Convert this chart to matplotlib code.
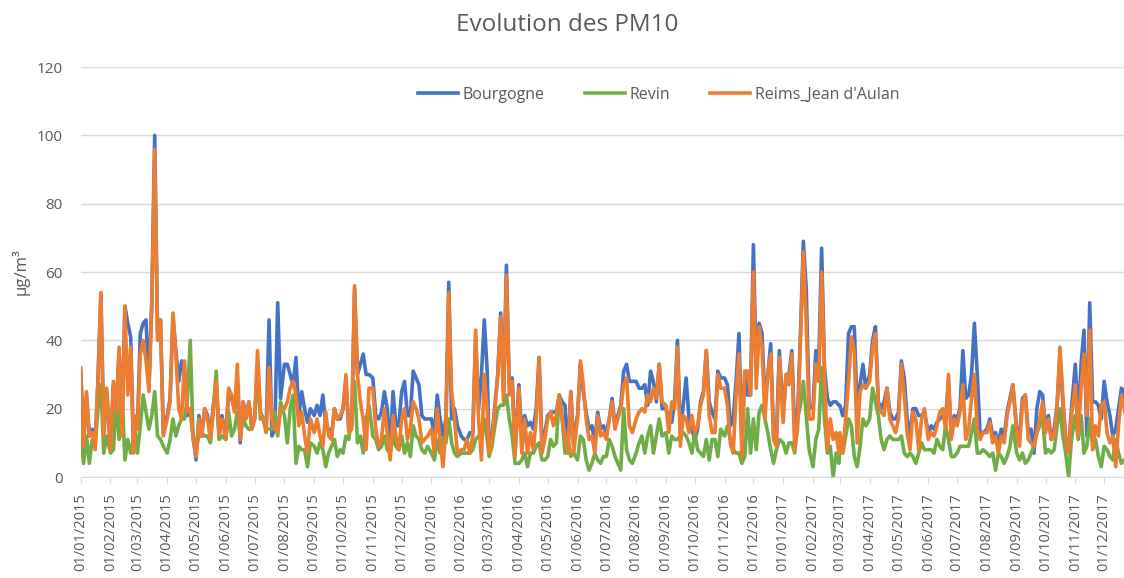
import matplotlib.pyplot as plt
import matplotlib.dates as mdates
import pandas as pd

# Daily PM10 readings, sampled every 3 days (10 values per month), Jan 2015 -> Dec 2017
months = pd.date_range('2015-01-01', '2017-12-01', freq='MS')
day_offsets = [0, 3, 6, 9, 12, 15, 18, 21, 24, 27]

bourgogne = [
    31, 10, 24, 12, 14, 9, 29, 53, 13, 25,    # 2015-01
    8, 27, 20, 37, 13, 50, 45, 41, 8, 18,     # 2015-02
    14, 42, 45, 46, 26, 52, 100, 42, 46, 13,  # 2015-03
    18, 23, 47, 37, 28, 34, 30, 18, 20, 12,   # 2015-04
    5, 18, 12, 20, 18, 12, 21, 27, 12, 18,    # 2015-05
    12, 25, 23, 20, 28, 10, 22, 18, 22, 15,   # 2015-06
    17, 32, 19, 17, 14, 46, 12, 14, 51, 23,   # 2015-07
    33, 33, 30, 27, 35, 18, 25, 20, 16, 20,   # 2015-08
    18, 21, 18, 24, 15, 14, 12, 20, 17, 17,   # 2015-09
    20, 28, 14, 15, 55, 30, 33, 36, 30, 30,   # 2015-10
    29, 18, 17, 19, 25, 20, 8, 25, 15, 15,    # 2015-11
    25, 28, 18, 18, 31, 29, 27, 18, 17, 17,   # 2015-12
    17, 12, 24, 17, 12, 17, 57, 17, 20, 15,   # 2016-01
    12, 11, 11, 13, 13, 41, 20, 30, 46, 31,   # 2016-02
    8, 12, 21, 30, 48, 25, 62, 27, 29, 8,     # 2016-03
    27, 12, 18, 15, 16, 14, 20, 35, 10, 13,   # 2016-04
    18, 19, 19, 19, 24, 22, 21, 7, 25, 10,    # 2016-05
    18, 33, 25, 19, 14, 15, 10, 19, 14, 15,   # 2016-06
    13, 17, 23, 15, 18, 21, 31, 33, 28, 28,   # 2016-07
    28, 26, 26, 27, 21, 31, 28, 22, 33, 20,   # 2016-08
    20, 17, 16, 22, 40, 13, 21, 29, 17, 14,   # 2016-09
    11, 14, 22, 25, 37, 22, 19, 17, 31, 29,   # 2016-10
    29, 27, 15, 17, 28, 42, 10, 30, 24, 24,   # 2016-11
    68, 30, 45, 42, 22, 30, 39, 12, 12, 37,   # 2016-12
    18, 30, 30, 37, 13, 18, 42, 69, 55, 21,   # 2017-01
    20, 37, 33, 67, 32, 23, 21, 22, 22, 21,   # 2017-02
    21, 18, 21, 42, 44, 44, 20, 27, 33, 26,   # 2017-03
    30, 40, 44, 22, 20, 22, 26, 19, 17, 17,   # 2017-04
    19, 34, 29, 17, 12, 20, 20, 18, 18, 19,   # 2017-05
    13, 15, 14, 16, 17, 18, 17, 28, 12, 18,   # 2017-06
    17, 20, 37, 23, 24, 30, 45, 30, 12, 13,   # 2017-07
    14, 17, 12, 13, 10, 14, 12, 19, 23, 27,   # 2017-08
    14, 12, 23, 24, 13, 14, 7, 20, 25, 24,    # 2017-09
    14, 18, 11, 14, 21, 36, 22, 11, 8, 20,    # 2017-10
    33, 16, 33, 43, 12, 51, 22, 22, 21, 17,   # 2017-11
    28, 22, 18, 12, 14, 20, 26, 25, 18, 15,   # 2017-12
]

revin = [
    13, 4, 12, 4, 11, 9, 20, 27, 7, 12,       # 2015-01
    7, 8, 23, 11, 24, 5, 11, 7, 11, 12,       # 2015-02
    7, 15, 24, 19, 14, 18, 25, 12, 11, 9,     # 2015-03
    7, 11, 17, 12, 15, 17, 17, 23, 40, 11,    # 2015-04
    8, 12, 13, 12, 12, 10, 20, 31, 11, 12,    # 2015-05
    11, 19, 12, 14, 19, 12, 17, 15, 14, 14,   # 2015-06
    17, 33, 17, 17, 14, 14, 14, 19, 12, 22,   # 2015-07
    18, 10, 20, 24, 4, 9, 8, 8, 3, 10,        # 2015-08
    9, 7, 10, 8, 3, 7, 9, 11, 6, 8,           # 2015-09
    7, 12, 11, 18, 28, 10, 12, 7, 17, 21,     # 2015-10
    12, 11, 8, 9, 12, 8, 7, 12, 9, 8,         # 2015-11
    12, 7, 10, 6, 15, 12, 11, 8, 7, 9,        # 2015-12
    7, 5, 11, 7, 11, 10, 17, 10, 7, 6,        # 2016-01
    7, 7, 7, 7, 8, 11, 12, 11, 17, 11,        # 2016-02
    6, 9, 15, 20, 21, 21, 24, 17, 12, 4,      # 2016-03
    4, 5, 7, 3, 7, 7, 9, 10, 5, 5,            # 2016-04
    6, 11, 9, 10, 24, 17, 7, 11, 6, 7,        # 2016-05
    5, 12, 11, 5, 2, 4, 7, 5, 4, 6,           # 2016-06
    6, 11, 9, 6, 4, 2, 20, 8, 5, 4,           # 2016-07
    7, 10, 12, 7, 12, 15, 7, 12, 17, 12,      # 2016-08
    13, 7, 12, 11, 11, 12, 13, 12, 10, 7,     # 2016-09
    13, 8, 7, 6, 11, 5, 11, 11, 6, 14,        # 2016-10
    12, 15, 11, 8, 7, 7, 4, 6, 20, 7,         # 2016-11
    17, 8, 19, 21, 17, 13, 8, 4, 8, 11,       # 2016-12
    10, 7, 10, 10, 7, 17, 21, 28, 18, 8,      # 2017-01
    3, 11, 14, 32, 17, 7, 9, 0, 7, 4,         # 2017-02
    9, 7, 12, 17, 15, 6, 3, 9, 17, 15,        # 2017-03
    17, 26, 22, 18, 11, 8, 11, 12, 11, 11,    # 2017-04
    11, 12, 7, 6, 7, 6, 4, 7, 10, 8,          # 2017-05
    8, 8, 7, 11, 9, 8, 15, 11, 6, 6,          # 2017-06
    7, 9, 9, 9, 9, 13, 17, 7, 7, 8,           # 2017-07
    7, 6, 7, 2, 7, 6, 4, 6, 9, 15,            # 2017-08
    7, 5, 7, 4, 5, 7, 9, 13, 15, 17,          # 2017-09
    7, 8, 7, 8, 15, 20, 12, 7, 0, 11,         # 2017-10
    18, 11, 18, 7, 9, 17, 9, 11, 6, 3,        # 2017-11
    9, 8, 6, 5, 11, 7, 4, 5, 6, 7,            # 2017-12
]

reims = [
    32, 9, 25, 12, 13, 8, 28, 54, 12, 26,     # 2015-01
    8, 28, 19, 38, 12, 50, 24, 38, 7, 18,     # 2015-02
    14, 36, 40, 34, 25, 50, 96, 40, 46, 12,   # 2015-03
    17, 22, 48, 36, 20, 17, 34, 19, 20, 11,   # 2015-04
    6, 17, 12, 20, 17, 11, 20, 28, 12, 17,    # 2015-05
    11, 26, 24, 19, 33, 11, 22, 17, 22, 14,   # 2015-06
    17, 37, 19, 17, 13, 32, 17, 14, 13, 20,   # 2015-07
    20, 22, 26, 28, 24, 15, 19, 12, 7, 17,    # 2015-08
    13, 17, 12, 9, 19, 12, 11, 20, 17, 18,    # 2015-09
    20, 30, 13, 14, 56, 30, 22, 17, 8, 26,    # 2015-10
    26, 14, 9, 11, 20, 13, 5, 18, 12, 8,      # 2015-11
    17, 20, 11, 14, 22, 20, 17, 10, 11, 12,   # 2015-12
    14, 7, 20, 11, 3, 14, 54, 25, 17, 7,      # 2016-01
    8, 8, 11, 7, 12, 43, 17, 5, 30, 20,       # 2016-02
    7, 11, 20, 30, 47, 22, 59, 24, 28, 6,     # 2016-03
    26, 7, 17, 7, 13, 8, 17, 35, 7, 11,       # 2016-04
    17, 19, 15, 18, 24, 17, 12, 7, 25, 7,     # 2016-05
    17, 34, 27, 17, 11, 12, 7, 18, 12, 13,    # 2016-06
    11, 17, 22, 14, 17, 20, 27, 29, 15, 13,   # 2016-07
    17, 19, 20, 19, 24, 22, 26, 23, 33, 22,   # 2016-08
    21, 13, 22, 20, 38, 9, 18, 17, 13, 18,    # 2016-09
    13, 15, 21, 24, 37, 18, 13, 13, 30, 26,   # 2016-10
    26, 21, 10, 7, 24, 36, 6, 31, 31, 24,     # 2016-11
    60, 26, 44, 38, 17, 30, 36, 11, 9, 35,    # 2016-12
    16, 30, 27, 36, 8, 14, 40, 66, 45, 17,    # 2017-01
    17, 33, 28, 60, 30, 8, 17, 11, 13, 7,     # 2017-02
    13, 7, 17, 28, 41, 37, 10, 25, 27, 26,    # 2017-03
    28, 38, 42, 21, 19, 18, 26, 17, 15, 13,   # 2017-04
    17, 33, 24, 13, 8, 19, 17, 8, 17, 20,     # 2017-05
    11, 13, 12, 15, 19, 20, 14, 30, 11, 17,   # 2017-06
    15, 19, 27, 11, 14, 23, 30, 14, 11, 13,   # 2017-07
    13, 16, 10, 12, 7, 12, 10, 18, 22, 27,    # 2017-08
    13, 9, 22, 24, 11, 10, 9, 13, 17, 22,     # 2017-09
    13, 17, 11, 12, 20, 38, 24, 11, 7, 18,    # 2017-10
    27, 12, 26, 36, 18, 43, 8, 15, 12, 21,    # 2017-11
    22, 13, 10, 12, 3, 15, 24, 20, 15, 12,    # 2017-12
]

dates = [m + pd.Timedelta(days=d) for m in months for d in day_offsets]

series_names = ['Bourgogne', 'Revin', "Reims_Jean d'Aulan"]
series_colors = ['#4472C4', '#70AD47', '#ED7D31']

plt.rcParams['font.family'] = ['Open Sans', 'DejaVu Sans']
text_color = '#595959'

fig = plt.figure(figsize=(11.24, 5.78), dpi=100)
ax = fig.add_axes([0.0718, 0.1747, 0.9282, 0.7093])

for name, vals, col in zip(series_names, [bourgogne, revin, reims], series_colors):
    ax.plot(dates, vals, color=col, linewidth=2.6, label=name, solid_joinstyle='round')

ax.set_ylim(0, 120)
ax.set_yticks(range(0, 121, 20))
ax.set_xlim(pd.Timestamp('2015-01-01'), pd.Timestamp('2017-12-21 16:00'))
ax.set_xticks(months)
ax.xaxis.set_major_formatter(mdates.DateFormatter('%d/%m/%Y'))
plt.setp(ax.get_xticklabels(), rotation=90)

ax.grid(axis='y', color='#d9d9d9', linewidth=1)
ax.set_axisbelow(True)
for side in ['top', 'right', 'left']:
    ax.spines[side].set_visible(False)
ax.spines['bottom'].set_color('#d9d9d9')
ax.tick_params(axis='x', colors='#d9d9d9', labelcolor=text_color, labelsize=10.5, length=4, pad=7.5)
ax.tick_params(axis='y', length=0, labelcolor=text_color, labelsize=11, pad=13)

fig.text(0.018, 0.53, 'µg/m³', rotation=90, ha='center', va='center', color=text_color, fontsize=12)
fig.text(0.505, 1 - 25 / 578, 'Evolution des PM10', ha='center', va='center', color=text_color, fontsize=17.5)

ax.legend(loc='center', bbox_to_anchor=(0.554, 0.932), ncol=3, frameon=False,
          fontsize=11.5, labelcolor=text_color, handlelength=2.5, handletextpad=0.3,
          columnspacing=2.5)

plt.savefig('out.png', dpi=100)
